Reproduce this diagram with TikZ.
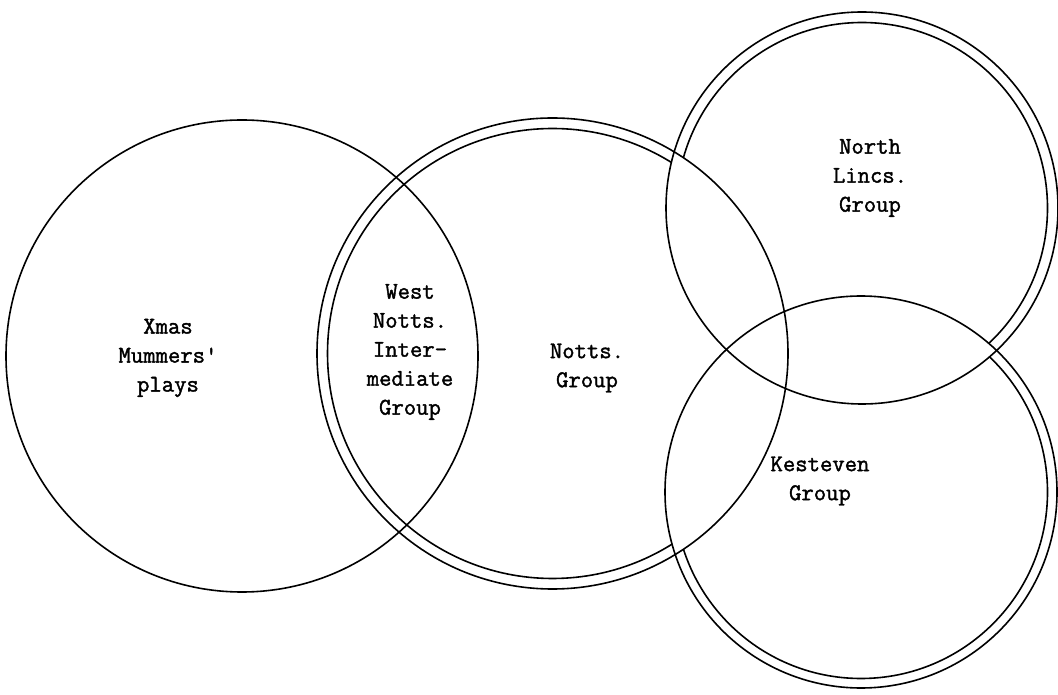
\documentclass[tikz,border=0pt]{standalone}
\usepackage{fontspec}
\newfontfamily\typed{Latin Modern Mono}[FakeBold=1.6]

\tikzset{
  ring/.style={line width=1.6pt},
  grouplabel/.style={font=\typed\fontsize{24}{29}\selectfont, align=center, inner sep=0pt},
}

\begin{document}
\begin{tikzpicture}[x=1pt,y=1pt]
  \useasboundingbox (0,0) rectangle (1058,694);

  % centres of the groups
  \coordinate (xmas) at (242,338);
  \coordinate (notts) at (552.5,340.5);
  \coordinate (lincs) at (862,486);
  \coordinate (kest) at (861,202);

  % outer rings
  \draw[ring] (xmas) circle (236);
  \draw[ring] (notts) circle (235.5);
  \draw[ring] (lincs) circle (196);
  \draw[ring] (kest) circle (196);

  % inner rings, only outside the neighbouring groups
  \begin{scope}[even odd rule]
    \clip (-20,-20) rectangle (1080,720) (lincs) circle (196);
    \clip (-20,-20) rectangle (1080,720) (kest) circle (196);
    \draw[ring] (notts) circle (225);
  \end{scope}
  \begin{scope}[even odd rule]
    \clip (-20,-20) rectangle (1080,720) (notts) circle (235.5);
    \clip (-20,-20) rectangle (1080,720) (kest) circle (196);
    \draw[ring] (lincs) circle (185.5);
  \end{scope}
  \begin{scope}[even odd rule]
    \clip (-20,-20) rectangle (1080,720) (notts) circle (235.5);
    \clip (-20,-20) rectangle (1080,720) (lincs) circle (196);
    \draw[ring] (kest) circle (186.5);
  \end{scope}

  % labels
  \node[grouplabel] (xmaslbl) at (168,336) {Xmas\\Mummers\textquotesingle\\plays};
  \node[grouplabel] (westlbl) at (410,342) {West\\Notts.\\Inter-\\mediate\\Group};
  \node[grouplabel] (nottslbl) at (587,326) {Notts.\\Group};
  \node[grouplabel] (lincslbl) at (870,516) {North\\Lincs.\\Group};
  \node[grouplabel] (kestlbl) at (820,213) {Kesteven\\Group};
\end{tikzpicture}
\end{document}
